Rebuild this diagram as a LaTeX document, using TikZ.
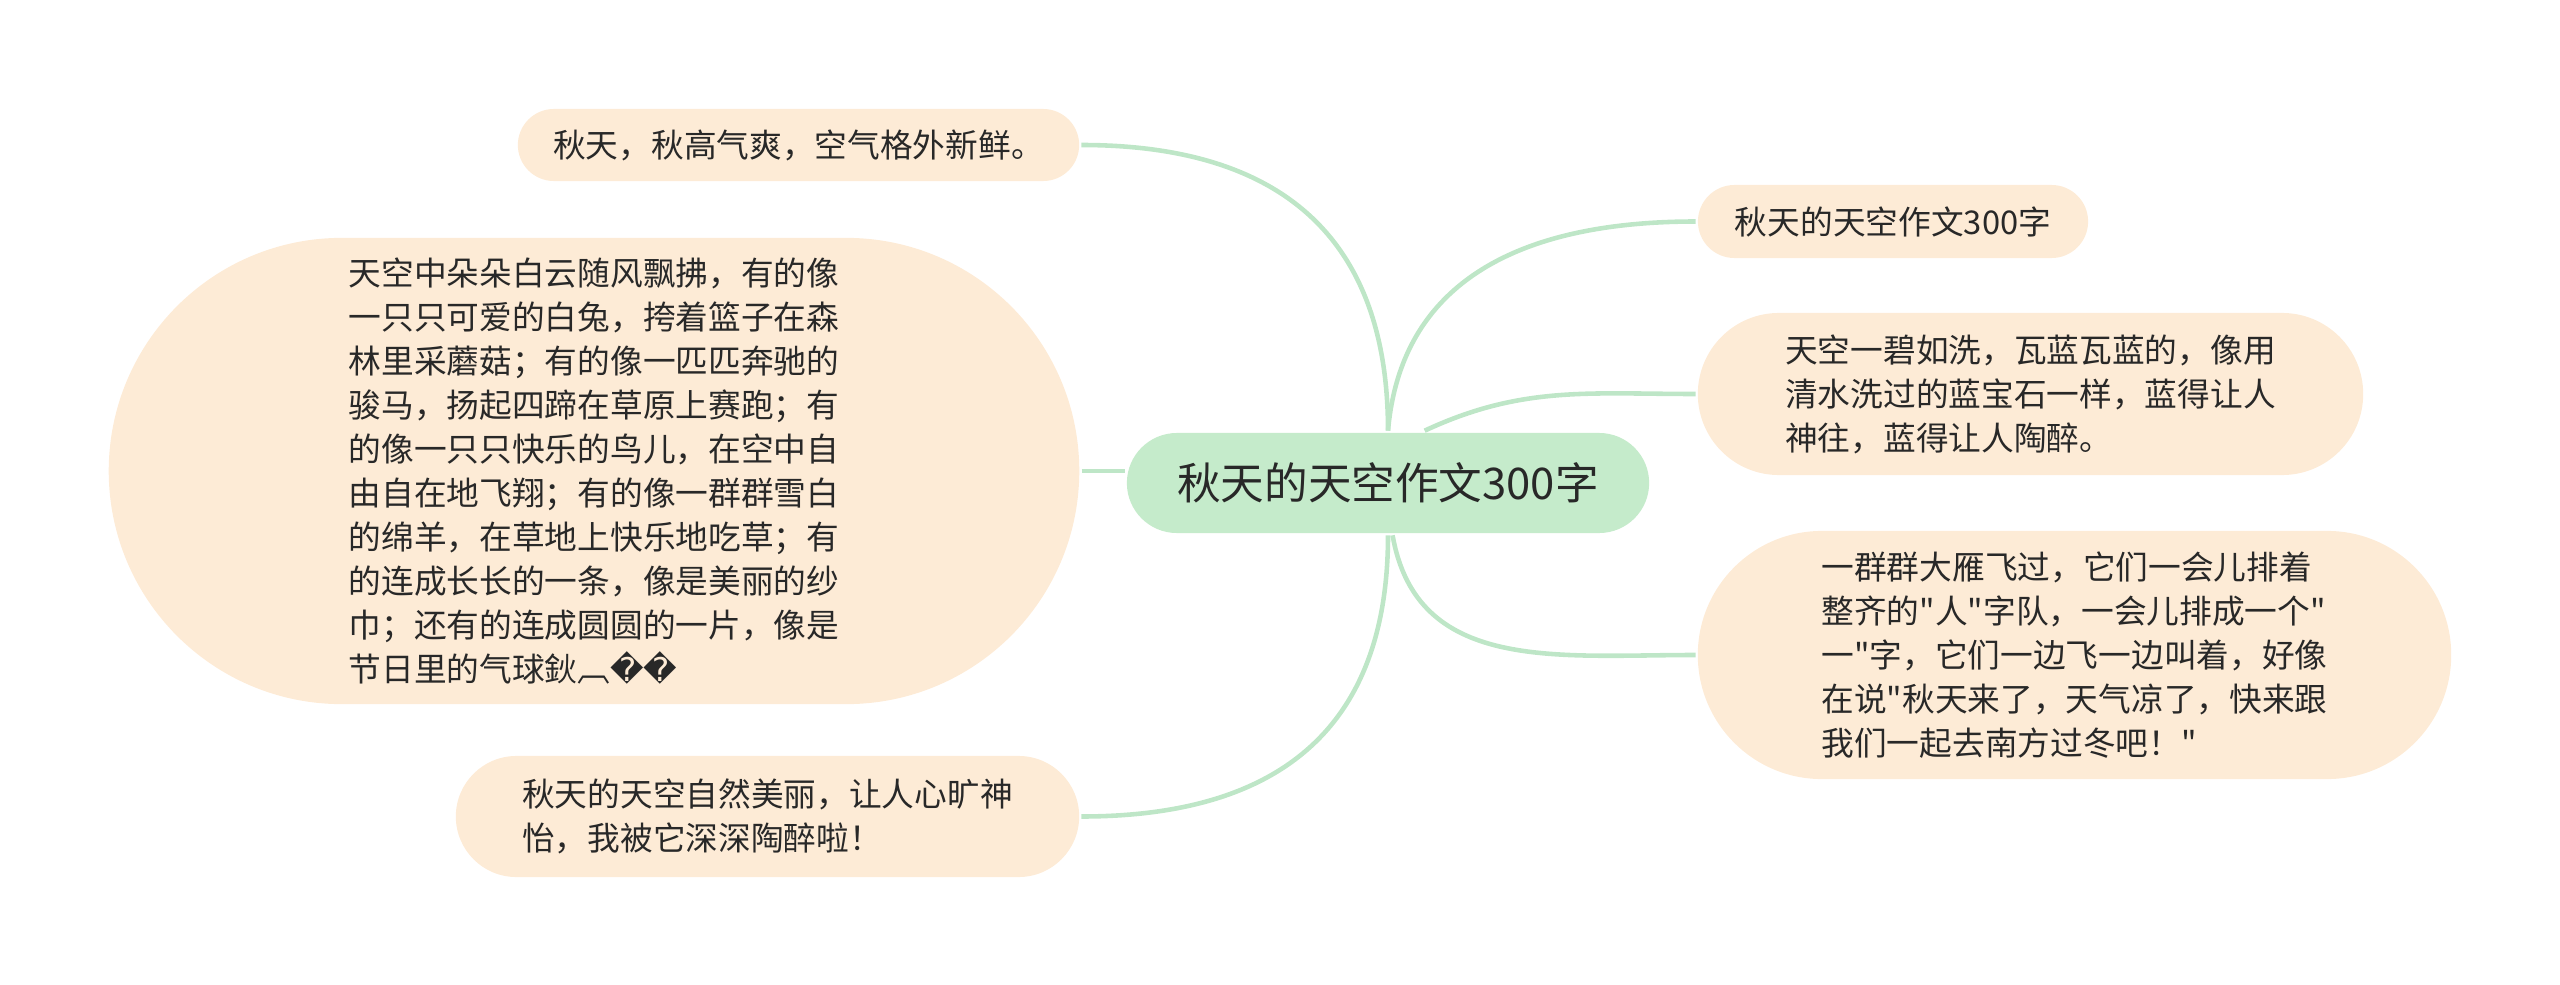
\documentclass[tikz,border=0pt]{standalone}
\usepackage{fontspec}
\usepackage{tikz}
\newfontfamily\cjk{Noto Sans CJK SC}
\newfontfamily\dejavu{DejaVu Sans}

\definecolor{rootgreen}{RGB}{197,235,203}
\definecolor{leafcream}{RGB}{253,235,214}
\definecolor{linegreen}{RGB}{190,230,199}
\definecolor{inkgray}{RGB}{40,40,40}

\begin{document}
\begin{tikzpicture}[x=0.01cm,y=-0.01cm,line width=1.3pt]
            % 设置节点样式
            \tikzstyle{topic}=[fill=rootgreen,text=inkgray,inner sep=0pt,font=\cjk\fontsize{12.4}{15}\selectfont]
            \tikzstyle{leaf}=[fill=leafcream,text=inkgray,inner sep=0pt,align=left,font=\cjk\fontsize{9.3}{12.5}\selectfont]
            \tikzstyle{branch}=[draw=linegreen,line width=1.3pt]

            \useasboundingbox (0,0) rectangle (2560,985);

            % 定义节点
            \node[topic,minimum width=5.22cm,minimum height=1cm,rounded corners=0.5cm] (root) at (1388,483) {秋天的天空作文300字}; % 中心主题
            \node[leaf,minimum width=5.61cm,minimum height=0.72cm,rounded corners=0.36cm] (tl) at (798.5,145) {秋天，秋高气爽，空气格外新鲜。};
            \node[leaf,minimum width=9.7cm,minimum height=4.66cm,rounded corners=2.33cm] (cloud) at (594,471) {天空中朵朵白云随风飘拂，有的像\\一只只可爱的白兔，挎着篮子在森\\林里采蘑菇；有的像一匹匹奔驰的\\骏马，扬起四蹄在草原上赛跑；有\\的像一只只快乐的鸟儿，在空中自\\由自在地飞翔；有的像一群群雪白\\的绵羊，在草地上快乐地吃草；有\\的连成长长的一条，像是美丽的纱\\巾；还有的连成圆圆的一片，像是\\节日里的气球鈥︹{\dejavu ��}};
            \node[leaf,minimum width=6.23cm,minimum height=1.21cm,rounded corners=0.605cm] (bl) at (767.5,816.5) {秋天的天空自然美丽，让人心旷神\\怡，我被它深深陶醉啦！};
            \node[leaf,minimum width=3.9cm,minimum height=0.73cm,rounded corners=0.365cm] (title) at (1893,221.5) {秋天的天空作文300字};
            \node[leaf,minimum width=6.65cm,minimum height=1.62cm,rounded corners=0.81cm] (blue) at (2030.5,394) {天空一碧如洗，瓦蓝瓦蓝的，像用\\清水洗过的蓝宝石一样，蓝得让人\\神往，蓝得让人陶醉。};
            \node[leaf,minimum width=7.53cm,minimum height=2.48cm,rounded corners=1.24cm] (geese) at (2074.5,655) {一群群大雁飞过，它们一会儿排着\\整齐的"人"字队，一会儿排成一个"\\一"字，它们一边飞一边叫着，好像\\在说"秋天来了，天气凉了，快来跟\\我们一起去南方过冬吧！"};

            % 定义连线
            \path[branch]
            (root.north) edge [out=90,in=0,looseness=1.2] (tl.east)
            (root.north) edge [out=85,in=180,looseness=1.1] (title.west)
            (root.55) edge [out=25,in=180] (blue.west)
            (cloud.east) edge (cloud.east -| root.west)
            (root.south) edge [out=-90,in=0,looseness=1.2] (bl.east)
            (root.-85) edge [out=-80,in=180,looseness=1.1] (geese.west);
        \end{tikzpicture}
\end{document}
